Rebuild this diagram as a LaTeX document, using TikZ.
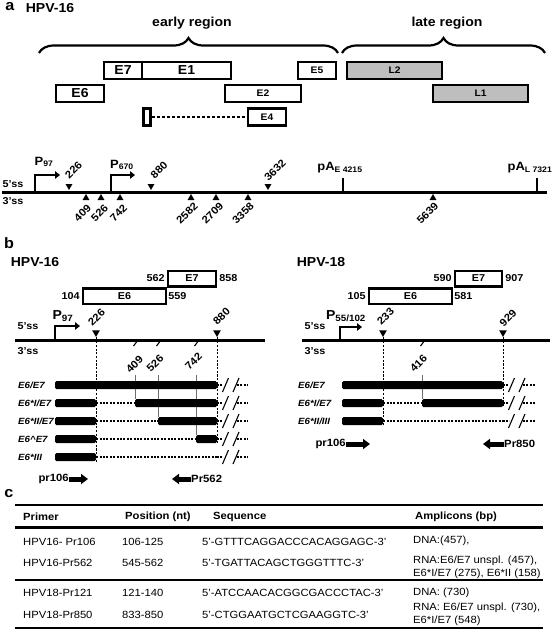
\documentclass[tikz,border=0pt]{standalone}
\usepackage{fontspec}
\setmainfont[FakeStretch=1.08]{Liberation Sans}
\usetikzlibrary{positioning, shapes.geometric, arrows.meta, decorations.pathreplacing}
\definecolor{LateGray}{RGB}{190,190,190}
\definecolor{GuideGray}{RGB}{110,110,110}
\newcommand{\fsz}[1]{\fontsize{#1}{#1}\selectfont}

\begin{document}
\begin{tikzpicture}[x=1pt, y=-1pt,
    panel/.style={font=\fsz{15}\bfseries, inner sep=0pt},
    title/.style={font=\fsz{13}\bfseries, inner sep=0pt},
    region/.style={font=\fsz{13}\bfseries, inner sep=0pt},
    orfa/.style={draw, line width=2.7pt, inner sep=0pt, minimum height=17pt, font=\fsz{13}\bfseries},
    orfsm/.style={orfa, font=\fsz{9.5}\bfseries},
    orfb/.style={draw, line width=2.5pt, inner sep=0pt, minimum height=15.5pt, font=\fsz{10}\bfseries},
    genome/.style={line width=3pt},
    brc/.style={line width=2.2pt, decorate, decoration={brace, amplitude=15pt}},
    tridn/.style={regular polygon, regular polygon sides=3, shape border rotate=180, fill, inner sep=0pt, minimum size=8pt},
    triup/.style={tridn, shape border rotate=0},
    ssnum/.style={font=\fsz{10.5}\bfseries, rotate=45, inner sep=0pt},
    sslab/.style={font=\fsz{10}\bfseries, inner sep=0pt},
    promlab/.style={font=\fsz{12}\bfseries, inner sep=0pt},
    prom/.style={line width=2.2pt, -{Triangle[length=5pt, width=7.5pt]}},
    pAlab/.style={font=\fsz{12}\bfseries, inner sep=0pt},
    posnum/.style={font=\fsz{10}\bfseries, inner sep=0pt},
    bar/.style={fill, inner sep=0pt, minimum height=8pt, rounded corners=1.5pt},
    gap/.style={line width=1.7pt, dash pattern=on 2pt off 1.4pt},
    guide/.style={line width=0.8pt, dash pattern=on 2.2pt off 1.5pt},
    tickg/.style={line width=0.8pt, GuideGray},
    slash/.style={line width=1.1pt},
    rowlab/.style={font=\fsz{9}\bfseries\itshape, anchor=west, inner sep=0pt},
    primer/.style={line width=5pt, -{Triangle[length=7pt, width=10pt]}},
    primlab/.style={font=\fsz{10.5}\bfseries, inner sep=0pt},
    tab/.style={font=\fsz{10.4}, anchor=west, inner sep=0pt},
    tabhead/.style={font=\fsz{10.4}\bfseries, anchor=west, inner sep=0pt}
  ]
  \useasboundingbox (0,0) rectangle (552,635);

  % ---- a: HPV-16 genome ----
  \node[panel] (pa) at (10,7) {a};
  \node[title] (a-hpv) at (50,8) {HPV-16};

  % Regions
  \coordinate (er-l) at (39,53);
  \coordinate (er-r) at (338,53);
  \coordinate (lr-l) at (342,53);
  \coordinate (lr-r) at (545,53);
  \draw[brc] (er-l) -- (er-r);
  \draw[brc] (lr-l) -- (lr-r);
  \node[region] (er) at (192,23) {early region};
  \node[region] (lr) at (447,23) {late region};

  % ORFs
  \node[orfa, minimum width=38pt] (a-E7) at (123,70.5) {E7};
  \node[orfa, minimum width=89pt] (a-E1) at (186.5,70.5) {E1};
  \node[orfsm, minimum width=38pt] (a-E5) at (317,70.5) {E5};
  \node[orfsm, fill=LateGray, minimum width=95pt] (a-L2) at (394.5,70.5) {L2};
  \node[orfa, minimum width=48pt] (a-E6) at (80,93.5) {E6};
  \node[orfsm, minimum width=76pt] (a-E2) at (263,93.5) {E2};
  \node[orfsm, fill=LateGray, minimum width=95pt] (a-L1) at (480.5,93.5) {L1};
  \node[orfsm, minimum width=7.5pt, minimum height=17.5pt] (a-E4x) at (147,117) {};
  \node[orfsm, minimum width=38pt, minimum height=17.5pt] (a-E4) at (267,117) {E4};
  \draw[gap, line width=2.2pt, dash pattern=on 3pt off 2pt] (a-E4x) -- (a-E4);

  % Genome line
  \coordinate (ga-l) at (2,192);
  \coordinate (ga-r) at (547,192);
  \draw[genome] (ga-l) -- (ga-r);
  \node[sslab] (a-5ss) at (13,184) {5'ss};
  \node[sslab] (a-3ss) at (13,201) {3'ss};

  % Promoters
  \coordinate (p97a) at (35,191);
  \coordinate (p97a-end) at (60,175);
  \draw[prom] (p97a) |- (p97a-end);
  \node[promlab] (p97a-lab) at (44,162) {P\textsubscript{97}};
  \coordinate (p670a) at (111,191);
  \coordinate (p670a-end) at (135,175);
  \draw[prom] (p670a) |- (p670a-end);
  \node[promlab] (p670a-lab) at (122,165) {P\textsubscript{670}};

  % Splice sites
  \foreach \pos/\x/\lx in {226/69/73.5, 880/151/159, 3632/268/275} {
    \node[tridn] (a-d\pos) at (\x,186) {};
    \node[ssnum] (a-d\pos-lab) at (\lx,170) {\pos};
  }
  \foreach \pos/\x/\lx in {409/86/82.5, 526/101/99.5, 742/120/118.5, 2582/191/187, 2709/216/212.5, 3358/248/243, 5639/433/427.5} {
    \node[triup] (a-a\pos) at (\x,198) {};
    \node[ssnum] (a-a\pos-lab) at (\lx,213) {\pos};
  }

  % Polyadenylation sites
  \coordinate (paE) at (343,191);
  \coordinate (paE-top) at (343,178);
  \draw[line width=2pt] (paE) -- (paE-top);
  \node[pAlab] (paE-lab) at (340,168) {pA\textsubscript{E 4215}};
  \coordinate (paL) at (537,191);
  \coordinate (paL-top) at (537,178);
  \draw[line width=2pt] (paL) -- (paL-top);
  \node[pAlab] (paL-lab) at (530,168) {pA\textsubscript{L 7321}};

  % ---- b: HPV-16 transcripts ----
  \node[panel] (pb) at (9,243) {b};
  \node[title] (b16) at (35,262) {HPV-16};
  \node[orfb, minimum width=48pt] (b16-E7) at (192,278.5) {E7};
  \node[orfb, minimum width=83pt] (b16-E6) at (124.5,296) {E6};
  \node[posnum, left=2pt of b16-E7] (b16-562) {562};
  \node[posnum, right=2pt of b16-E7] (b16-858) {858};
  \node[posnum, left=2pt of b16-E6] (b16-104) {104};
  \node[posnum, right=1pt of b16-E6] (b16-559) {559};

  \coordinate (g16-l) at (15,340);
  \coordinate (g16-r) at (265,340);
  \draw[genome] (g16-l) -- (g16-r);
  \node[sslab] (b16-5ss) at (28,326) {5'ss};
  \node[sslab] (b16-3ss) at (28,351) {3'ss};
  \coordinate (p97b) at (55,339);
  \coordinate (p97b-end) at (80,326);
  \draw[prom] (p97b) |- (p97b-end);
  \node[promlab, font=\fsz{13}\bfseries] (p97b-lab) at (63,316) {P\textsubscript{97}};

  \node[tridn, minimum size=9pt] (b16-d226) at (96,332.5) {};
  \node[tridn, minimum size=9pt] (b16-d880) at (217,332.5) {};
  \node[ssnum] (b16-d226-lab) at (96.5,317.5) {226};
  \node[ssnum] (b16-d880-lab) at (221.5,316.5) {880};

  \foreach \pos/\x/\lx/\ly/\yb in {409/135/134.5/364.5/399, 526/158/155/363.5/417, 742/196/193.5/361.5/435} {
    \draw[slash] (\x-1.5,346) -- (\x+1.5,342);
    \node[ssnum] (b16-a\pos-lab) at (\lx,\ly) {\pos};
    \draw[tickg] (\x,375) -- (\x,\yb);
  }

  % Transcripts
  \node[bar, minimum width=162pt] (r1) at (136,385) {};
  \node[bar, minimum width=41pt] (r2a) at (75.5,403) {};
  \node[bar, minimum width=82pt] (r2b) at (176,403) {};
  \node[bar, minimum width=41pt] (r3a) at (75.5,421) {};
  \node[bar, minimum width=59pt] (r3b) at (187.5,421) {};
  \node[bar, minimum width=41pt] (r4a) at (75.5,439) {};
  \node[bar, minimum width=21pt] (r4b) at (206.5,439) {};
  \node[bar, minimum width=41pt] (r5a) at (75.5,457) {};
  \coordinate (r5b) at (217,457);
  \draw[gap] (r2a) -- (r2b);
  \draw[gap] (r3a) -- (r3b);
  \draw[gap] (r4a) -- (r4b);
  \draw[gap] (r5a) -- (r5b);
  \foreach \y in {385,403,421,439,457} {
    \draw[gap] (217,\y) -- (223,\y);
    \draw[gap] (237,\y) -- (248,\y);
    \draw[slash] (222.5,\y+7) -- (228.5,\y-7);
    \draw[slash] (233,\y+7) -- (239,\y-7);
  }
  \draw[guide] (b16-d226) -- (96,461.5);
  \draw[guide] (b16-d880) -- (217,443);

  \node[rowlab] (l1) at (18,385) {E6/E7};
  \node[rowlab] (l2) at (18,403) {E6*I/E7};
  \node[rowlab] (l3) at (18,421) {E6*II/E7};
  \node[rowlab] (l4) at (18,439) {E6\textasciicircum E7};
  \node[rowlab] (l5) at (18,457) {E6*III};

  % Primers
  \node[primlab, anchor=east] (pr106a) at (69,479) {pr106};
  \coordinate (pr106a-tip) at (88,479);
  \draw[primer] (pr106a.east) -- (pr106a-tip);
  \node[primlab, anchor=west] (pr562) at (191,479) {Pr562};
  \coordinate (pr562-tip) at (172,479);
  \draw[primer] (pr562.west) -- (pr562-tip);

  % ---- b: HPV-18 transcripts ----
  \node[title] (b18) at (321,262) {HPV-18};
  \node[orfb, minimum width=47pt] (b18-E7) at (478.5,278.5) {E7};
  \node[orfb, minimum width=83pt] (b18-E6) at (410.5,296) {E6};
  \node[posnum, left=2pt of b18-E7] (b18-590) {590};
  \node[posnum, right=2pt of b18-E7] (b18-907) {907};
  \node[posnum, left=2pt of b18-E6] (b18-105) {105};
  \node[posnum, right=1pt of b18-E6] (b18-581) {581};

  \coordinate (g18-l) at (302,340);
  \coordinate (g18-r) at (550,340);
  \draw[genome] (g18-l) -- (g18-r);
  \node[sslab] (b18-5ss) at (315,326) {5'ss};
  \node[sslab] (b18-3ss) at (315,351) {3'ss};
  \coordinate (p55) at (340,339);
  \coordinate (p55-end) at (362,327);
  \draw[prom] (p55) |- (p55-end);
  \node[promlab, font=\fsz{13}\bfseries] (p55-lab) at (346,316) {P\textsubscript{55/102}};

  \node[tridn, minimum size=9pt] (b18-d233) at (383,332.5) {};
  \node[tridn, minimum size=9pt] (b18-d929) at (503,332.5) {};
  \node[ssnum] (b18-d233-lab) at (385.5,316.5) {233};
  \node[ssnum] (b18-d929-lab) at (508,318) {929};
  \draw[slash] (420.5,346) -- (423.5,342);
  \node[ssnum] (b18-a416-lab) at (418.5,363.5) {416};
  \draw[tickg] (422,375) -- (422,399);

  \node[bar, minimum width=161pt] (s1) at (422.5,385) {};
  \node[bar, minimum width=41pt] (s2a) at (362.5,403) {};
  \node[bar, minimum width=81pt] (s2b) at (462.5,403) {};
  \node[bar, minimum width=41pt] (s3a) at (362.5,421) {};
  \coordinate (s3b) at (509,421);
  \draw[gap] (s2a) -- (s2b);
  \draw[gap] (s3a) -- (s3b);
  \foreach \y in {385,403,421} {
    \draw[gap] (503,\y) -- (509,\y);
    \draw[gap] (523,\y) -- (535,\y);
    \draw[slash] (508.5,\y+7) -- (514.5,\y-7);
    \draw[slash] (519,\y+7) -- (525,\y-7);
  }
  \draw[guide] (b18-d233) -- (383,425);
  \draw[guide] (b18-d929) -- (503,407);

  \node[rowlab] (m1) at (298,385) {E6/E7};
  \node[rowlab] (m2) at (298,403) {E6*I/E7};
  \node[rowlab] (m3) at (298,421) {E6*II/III};

  \node[primlab, anchor=east] (pr106b) at (346,444) {pr106};
  \coordinate (pr106b-tip) at (370,444);
  \draw[primer] (pr106b.east) -- (pr106b-tip);
  \node[primlab, anchor=west] (pr850) at (504,444) {Pr850};
  \coordinate (pr850-tip) at (483,444);
  \draw[primer] (pr850.west) -- (pr850-tip);

  % ---- c: primer table ----
  \node[panel] (pc) at (9,494) {c};
  \coordinate (rt-l) at (15,505);   \coordinate (rt-r) at (543,505);
  \coordinate (rh-l) at (15,527.5); \coordinate (rh-r) at (543,527.5);
  \coordinate (rm-l) at (15,580);   \coordinate (rm-r) at (543,580);
  \coordinate (rb-l) at (15,628);   \coordinate (rb-r) at (543,628);
  \draw[line width=1.8pt] (rt-l) -- (rt-r);
  \draw[line width=2.7pt] (rh-l) -- (rh-r);
  \draw[line width=1.6pt] (rm-l) -- (rm-r);
  \draw[line width=1.6pt] (rb-l) -- (rb-r);

  \node[tabhead] (h1) at (23,517) {Primer};
  \node[tabhead] (h2) at (125,517) {Position (nt)};
  \node[tabhead] (h3) at (213,517) {Sequence};
  \node[tabhead] (h4) at (415,517) {Amplicons (bp)};

  \foreach \yy/\pr/\ps/\sq in {542/HPV16- Pr106/106-125/5'-GTTTCAGGACCCACAGGAGC-3',
                               563/HPV16-Pr562/545-562/5'-TGATTACAGCTGGGTTTC-3',
                               593/HPV18-Pr121/121-140/5'-ATCCAACACGGCGACCCTAC-3',
                               615/HPV18-Pr850/833-850/5'-CTGGAATGCTCGAAGGTC-3'} {
    \node[tab] (t-pr\yy) at (23,\yy) {\pr};
    \node[tab] (t-ps\yy) at (122,\yy) {\ps};
    \node[tab] (t-sq\yy) at (202,\yy) {\sq};
  }
  \node[tab] (amp1) at (413,541) {DNA:(457),};
  \node[tab] (amp2) at (413,561) {RNA:E6/E7 unspl. (457),};
  \node[tab] (amp3) at (413,574) {E6*I/E7 (275), E6*II (158)};
  \node[tab] (amp4) at (413,593) {DNA: (730)};
  \node[tab] (amp5) at (413,608) {RNA: E6/E7 unspl. (730),};
  \node[tab] (amp6) at (413,621) {E6*I/E7 (548)};
\end{tikzpicture}
\end{document}
